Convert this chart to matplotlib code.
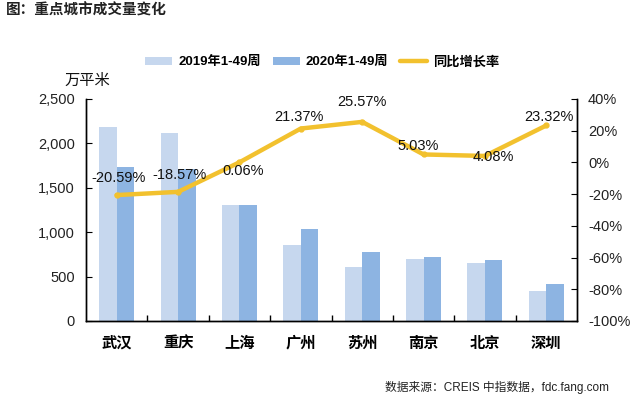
import matplotlib
matplotlib.use("Agg")
import matplotlib.pyplot as plt
from matplotlib.ticker import FuncFormatter, FixedLocator
import numpy as np

cities = ["武汉", "重庆", "上海", "广州", "苏州", "南京", "北京", "深圳"]
vol_2019 = [2187, 2112, 1304, 852, 611, 698, 656, 336]
vol_2020 = [1734, 1716, 1305, 1037, 777, 724, 687, 415]
yoy = [-20.59, -18.57, 0.06, 21.37, 25.57, 5.03, 4.08, 23.32]
series_names = ["2019年1-49周", "2020年1-49周", "同比增长率"]
title = "图：重点城市成交量变化"
unit = "万平米"
source = "数据来源：CREIS 中指数据，fdc.fang.com"

FONTS = ["Liberation Sans", "Noto Sans CJK SC", "DejaVu Sans"]
CJK = ["Noto Sans CJK SC", "DejaVu Sans"]
plt.rcParams['font.family'] = FONTS

c_light = "#C6D7EE"
c_dark = "#8DB4E2"
c_line = "#F2C12E"

fig = plt.figure(figsize=(6.32, 3.99), dpi=100)
ax = fig.add_axes([86/632, 1-321/399, (577-86)/632, (321-99)/399])
ax2 = ax.twinx()

x = np.arange(len(cities))
w = 0.285
b1 = ax.bar(x - w/2, vol_2019, w, color=c_light, label=series_names[0], zorder=2)
b2 = ax.bar(x + w/2, vol_2020, w, color=c_dark, label=series_names[1], zorder=2)

ax.set_xlim(-0.5, len(cities) - 0.5)
ax.set_ylim(0, 2500)
ax.set_yticks(np.arange(0, 2501, 500))
ax.yaxis.set_major_formatter(FuncFormatter(lambda v, p: f"{int(v):,}"))
ax.set_xticks(x)
ax.set_xticklabels(cities, family=CJK, fontsize=11, fontweight='bold')
ax.xaxis.set_minor_locator(FixedLocator(np.arange(0.5, len(cities) - 1, 1.0)))
ax.tick_params(axis='x', which='major', length=0, pad=10)
ax.tick_params(axis='x', which='minor', direction='in', length=4, width=1)
ax.tick_params(axis='y', direction='in', length=4, labelsize=10.5, pad=8)
for lbl in ax.get_yticklabels():
    lbl.set_color("#222222")

ln, = ax2.plot(x, yoy, color=c_line, lw=3.2, marker='o', ms=3.5,
               solid_capstyle='round', label=series_names[2], zorder=3)
ax2.set_ylim(-100, 40)
ax2.set_yticks(np.arange(-100, 41, 20))
ax2.yaxis.set_major_formatter(FuncFormatter(lambda v, p: f"{int(v)}%"))
ax2.tick_params(axis='y', direction='in', length=4, labelsize=10.5, pad=8)
for lbl in ax2.get_yticklabels():
    lbl.set_color("#222222")

offsets = [(1, 12), (1, 12), (3, -6), (-1, 8), (0, 14), (-4, 6), (6, -1), (2, 6)]
for xi, v, (dx, dy) in zip(x, yoy, offsets):
    ax2.annotate(f"{v:.2f}%", (xi, v), xytext=(dx, dy), textcoords='offset points',
                 ha='center', va='center', fontsize=10.5, color="#111111", zorder=4)

for a in (ax, ax2):
    a.spines['top'].set_visible(False)
    for s in ('left', 'right', 'bottom'):
        a.spines[s].set_linewidth(1.0)
        a.spines[s].set_color("#000000")

handles = [b1, b2, ln]
leg = fig.legend(handles, series_names, loc='center', bbox_to_anchor=(0.51, 1-62/399),
                 ncol=3, frameon=False, handlelength=2.05, handleheight=0.55,
                 handletextpad=0.45, columnspacing=0.9,
                 prop={'family': FONTS, 'size': 9.5, 'weight': 'bold'})
for h in leg.legend_handles:
    try:
        h.set_marker('')
    except Exception:
        pass

fig.text(6/632, 1-10/399, title, family=CJK, fontsize=10.5, fontweight='bold',
         ha='left', va='center', color="#222222")
fig.text(87/632, 1-80/399, unit, family=CJK, fontsize=11, ha='center', va='center',
         color="#111111")
fig.text(609/632, 1-387/399, source, family=FONTS, fontsize=8.5, ha='right', va='center',
         color="#222222")

fig.savefig("out.png", dpi=100)
